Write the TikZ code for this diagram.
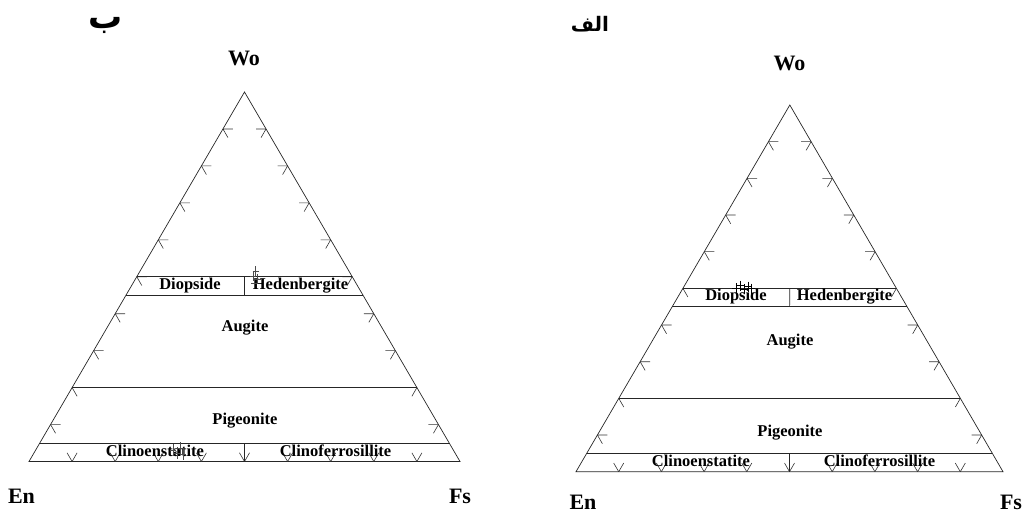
\documentclass[tikz,border=0pt]{standalone}
\usepackage{fontspec}
\setmainfont{Liberation Serif}
\newfontfamily\arabicfont[Script=Arabic]{DejaVu Sans}
\TeXXeTstate=1
\usetikzlibrary{calc}
\tikzset{
  frame/.style={line width=0.7pt, black!85},
  tickline/.style={line width=0.6pt, black!80},
  datamark/.style={line width=0.6pt, black!70},
  mineral/.style={font=\bfseries\fontsize{16.5}{18}\selectfont, anchor=base, inner sep=0pt},
  corner/.style={font=\bfseries\fontsize{22}{24}\selectfont, anchor=base, inner sep=0pt},
  arab/.style={font=\arabicfont\bfseries\fontsize{20}{24}\selectfont, inner sep=0pt},
}
\newcommand\ternarydiagram[1]{%
  \draw[frame] (#1En) -- (#1Fs) -- (#1Wo) -- cycle;
  % ticks
  \foreach \k in {1,...,9}{
    \draw[tickline] ($(#1En)!\k/10!(#1Wo)$) -- ++(10,0) ($(#1En)!\k/10!(#1Wo)$) -- ++(5,8.66);
    \draw[tickline] ($(#1Fs)!\k/10!(#1Wo)$) -- ++(-10,0) ($(#1Fs)!\k/10!(#1Wo)$) -- ++(-5,8.66);
    \draw[tickline] ($(#1En)!\k/10!(#1Fs)$) -- ++(-5,-8.66) ($(#1En)!\k/10!(#1Fs)$) -- ++(5,-8.66);
  }
  % field boundaries
  \foreach \f in {0.5,0.45,0.2,0.05}{
    \draw[frame] ($(#1En)!\f!(#1Wo)$) -- ($(#1Fs)!\f!(#1Wo)$);
  }
  \coordinate (#1Mb) at ($(#1En)!0.5!(#1Fs)$);
  \coordinate (#1M5) at ($($(#1En)!0.05!(#1Wo)$)!0.5!($(#1Fs)!0.05!(#1Wo)$)$);
  \coordinate (#1M50) at ($($(#1En)!0.5!(#1Wo)$)!0.5!($(#1Fs)!0.5!(#1Wo)$)$);
  \coordinate (#1M45) at ($($(#1En)!0.45!(#1Wo)$)!0.5!($(#1Fs)!0.45!(#1Wo)$)$);
  \draw[frame] (#1M50) -- (#1M45);
  \draw[frame] (#1M5) -- (#1Mb);
}
\begin{document}
\begin{tikzpicture}[x=1pt,y=-1pt]
\useasboundingbox (0,0) rectangle (1024,514);
% ---------- left diagram (b) ----------
\coordinate (LEn) at (29,461.5);
\coordinate (LFs) at (460,461.5);
\coordinate (LWo) at (244.5,92);
\ternarydiagram{L}
\node[arab, anchor=base, font=\arabicfont\bfseries\fontsize{34}{36}\selectfont] (Lb) at (106,28) {\beginR ب\endR};
\node[corner] (LWoT) at (244,65) {Wo};
\node[corner] (LEnT) at (21.5,503) {En};
\node[corner] (LFsT) at (460,503) {Fs};
\node[mineral] (LDi) at (190,289) {Diopside};
\node[mineral] (LHd) at (300.5,289) {Hedenbergite};
\node[mineral] (LAu) at (245,331) {Augite};
\node[mineral] (LPi) at (245,424) {Pigeonite};
\node[mineral] (LCe) at (155,456.5) {Clinoenstatite};
\node[mineral] (LCf) at (335.5,456.5) {Clinoferrosillite};
\foreach \p in {(253,276),(255.5,271),(257.5,279),(254,283)}{
  \draw[datamark] \p ++(0,-5) -- ++(0,10) \p ++(-3,0) -- ++(6,0);
}
\foreach \p in {(173,450),(177,453),(180,448),(183,454)}{
  \draw[datamark] \p ++(0,-6) -- ++(0,12) \p ++(-3,0) -- ++(6,0);
}
% ---------- right diagram (alef) ----------
\coordinate (REn) at (576,471.7);
\coordinate (RFs) at (1003,471.7);
\coordinate (RWo) at (789.8,105);
\ternarydiagram{R}
\node[arab] (Ra) at (590,24) {\beginR الف\endR};
\node[corner] (RWoT) at (789.5,70) {Wo};
\node[corner] (REnT) at (583,509) {En};
\node[corner] (RFsT) at (1011,509) {Fs};
\node[mineral] (RDi) at (736,300) {Diopside};
\node[mineral] (RHd) at (844.5,300) {Hedenbergite};
\node[mineral] (RAu) at (790,345) {Augite};
\node[mineral] (RPi) at (790,436) {Pigeonite};
\node[mineral] (RCe) at (701,466.5) {Clinoenstatite};
\node[mineral] (RCf) at (879.5,466.5) {Clinoferrosillite};
\foreach \p in {(736,288),(740,285.5),(744,289),(748,286.5),(751,288.5)}{
  \draw[datamark, black] \p ++(0,-5) -- ++(0,10) \p ++(-4,0) -- ++(8,0);
}
\end{tikzpicture}
\end{document}
